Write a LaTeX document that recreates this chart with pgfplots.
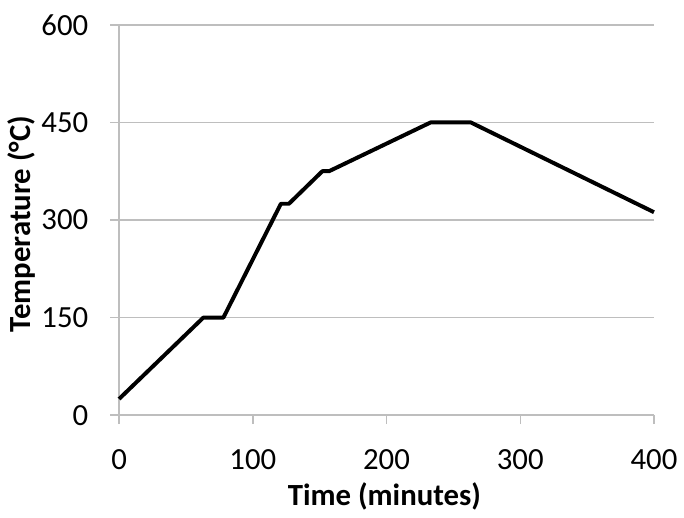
\documentclass[border=0pt]{standalone}
\usepackage{fontspec}
\setmainfont{Carlito}
\usepackage{pgfplots}
\pgfplotsset{compat=1.18}
\definecolor{gridgray}{RGB}{190,190,190}
\begin{document}
\begin{tikzpicture}
\begin{axis}[
    scale only axis,
    width=269.5pt,
    height=196.7pt,
    xmin=0, xmax=400,
    ymin=0, ymax=600,
    xtick={0,100,200,300,400},
    ytick={0,150,300,450,600},
    axis lines=left,
    axis line style={-, draw=gridgray, line width=0.75pt},
    tick align=outside,
    major tick length=4.5pt,
    tick style={draw=gridgray, line width=0.75pt},
    ymajorgrids,
    grid style={draw=gridgray, line width=0.75pt},
    /pgf/number format/assume math mode=true,
    tick label style={font=\fontsize{15.5}{18}\selectfont},
    yticklabel style={xshift=-7.5pt},
    xticklabel style={yshift=-9pt},
    label style={font=\fontsize{15.5}{18}\selectfont\bfseries},
    xlabel={Time (minutes)},
    ylabel={Temperature (°C)},
    xlabel style={at={(axis description cs:0.496,-0.209)}, anchor=center},
    ylabel style={at={(axis description cs:-0.182,0.49)}, anchor=center},
    clip=false,
]
\addplot[black, line width=2pt, line join=round] coordinates {
    (0,25) (63,150) (78,150) (121,325) (127,325) (152,375) (157,375)
    (233,450) (263,450) (400,312)
};
\path[use as bounding box] (rel axis cs:-0.2226,-0.2459) rectangle (rel axis cs:1.0464,1.0636);
\end{axis}
\end{tikzpicture}
\end{document}
